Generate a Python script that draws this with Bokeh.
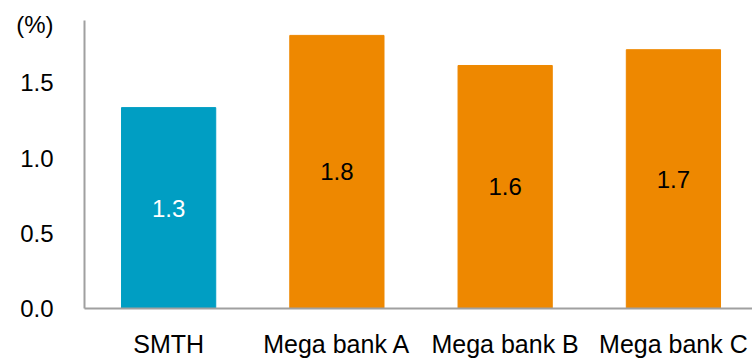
from bokeh.plotting import figure
from bokeh.models import ColumnDataSource, FixedTicker, Range1d
from bokeh.core.properties import value
from bokeh.embed import file_html
from bokeh.resources import INLINE

# Data
categories = ["SMTH", "Mega bank A", "Mega bank B", "Mega bank C"]
values = [1.335, 1.815, 1.615, 1.72]
bar_colors = ["#009EC3", "#EE8800", "#EE8800", "#EE8800"]
label_colors = ["#FFFFFF", "#000000", "#000000", "#000000"]
y_ticks = [0.0, 0.5, 1.0, 1.5]
y_tick_labels = ["0.0", "0.5", "1.0", "1.5"]
unit_label = "(%)"

# Layout constants
UNIT_POS = 1.89   # height of the unit caption on the value axis
FONT = "Liberation Sans"

xs = list(range(len(categories)))
src = ColumnDataSource(dict(
    x=xs,
    top=values,
    mid=[v / 2 for v in values],
    color=bar_colors,
    tcolor=label_colors,
    txt=[f"{v:.1f}" for v in values],
))

p = figure(width=752, height=361, output_backend="svg", toolbar_location=None,
           x_range=Range1d(-0.5, 3.47), y_range=Range1d(0, 1.914),
           min_border_left=84, min_border_right=0, min_border_top=20, min_border_bottom=53)

p.vbar(x="x", top="top", bottom=0, width=0.56, color="color", source=src)
p.text(x="x", y="mid", text="txt", text_color="tcolor", source=src,
       text_font=value(FONT), text_font_size="24px",
       text_align="center", text_baseline="middle")

p.outline_line_color = None
p.xgrid.grid_line_color = None
p.ygrid.grid_line_color = None
p.background_fill_color = "white"
p.border_fill_color = "white"

for ax in (p.xaxis[0], p.yaxis[0]):
    ax.axis_line_color = "#A0A0A0"
    ax.axis_line_width = 2
    ax.major_tick_line_color = None
    ax.minor_tick_line_color = None
    ax.major_tick_in = 0
    ax.major_tick_out = 0
    ax.minor_tick_in = 0
    ax.minor_tick_out = 0
    ax.major_label_text_font = FONT
    ax.major_label_text_color = "#000000"

p.xaxis.major_label_text_font_size = "25px"
p.yaxis.major_label_text_font_size = "24px"

p.xaxis.ticker = FixedTicker(ticks=xs)
p.xaxis.major_label_overrides = {i: c for i, c in enumerate(categories)}
p.xaxis.major_label_standoff = 21

overrides = {t: l for t, l in zip(y_ticks, y_tick_labels)}
overrides[UNIT_POS] = unit_label
p.yaxis.ticker = FixedTicker(ticks=y_ticks + [UNIT_POS])
p.yaxis.major_label_overrides = overrides
p.yaxis.major_label_standoff = 31

open("out.html", "w").write(file_html(p, INLINE))
